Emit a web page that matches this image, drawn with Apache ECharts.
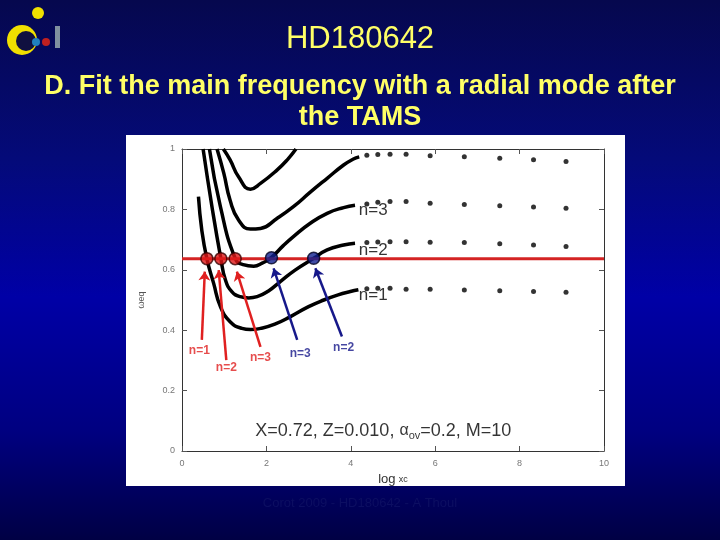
<!DOCTYPE html>
<html>
<head>
<meta charset="utf-8">
<script src="https://cdn.jsdelivr.net/npm/echarts@6/dist/echarts.min.js"></script>
<style>
  html, body { margin: 0; padding: 0; }
  #chart { width: 720px; height: 540px; }
</style>
</head>
<body>
<div id="chart"></div>
<script>
// mode tracks (log xc, frequency)
const curveN1 = [[0.39,0.842],[0.47,0.73],[0.59,0.636],[0.75,0.555],[0.91,0.478],[1.14,0.428],[1.42,0.406],[1.62,0.402],[1.86,0.406],[2.2,0.42],[2.57,0.445],[3.0,0.478],[3.36,0.5],[3.7,0.517],[3.99,0.528],[4.18,0.534]]
const curveN2 = [[0.50,1.0],[0.71,0.809],[0.92,0.638],[1.03,0.566],[1.18,0.528],[1.38,0.511],[1.58,0.507],[1.78,0.511],[2.05,0.53],[2.33,0.561],[2.68,0.599],[3.12,0.638],[3.44,0.666],[3.83,0.682],[4.1,0.688]]
const curveN3 = [[0.65,1.0],[0.91,0.809],[1.26,0.638],[1.45,0.617],[1.7,0.612],[1.9,0.622],[2.12,0.641],[2.4,0.68],[2.64,0.71],[3.04,0.754],[3.44,0.787],[3.83,0.806],[4.1,0.814]]
const curveN4 = [[0.83,1.0],[0.99,0.92],[1.14,0.83],[1.34,0.765],[1.62,0.735],[1.86,0.737],[2.25,0.77],[2.64,0.809],[3.04,0.857],[3.44,0.903],[3.83,0.947],[4.05,0.966],[4.2,0.974]]
const curveN5 = [[0.98,1.0],[1.14,0.964],[1.34,0.908],[1.62,0.867],[1.86,0.886],[2.25,0.93],[2.5,0.965],[2.7,1.0]]

// sparse points on the plateaus
const plateauX = [4.38, 4.64, 4.93, 5.31, 5.88, 6.69, 7.53, 8.33, 9.10]
const plateauN1 = [0.537, 0.539, 0.539, 0.536, 0.536, 0.533, 0.531, 0.528, 0.526]
const plateauN2 = [0.690, 0.692, 0.693, 0.693, 0.691, 0.690, 0.686, 0.682, 0.677]
const plateauN3 = [0.818, 0.824, 0.826, 0.826, 0.820, 0.816, 0.812, 0.808, 0.804]
const plateauN4 = [0.979, 0.982, 0.983, 0.983, 0.978, 0.974, 0.969, 0.964, 0.959]

// observed main frequency and the matching points
const obsFreq = 0.637
const redFits = [[0.59,0.637],[0.92,0.637],[1.26,0.637]]
const blueFits = [[2.12,0.640],[3.12,0.638]]

// arrows: [tailX, tailY, headX, headY, label, labelX, labelY]
const redArrows = [
  [0.47,0.368, 0.54,0.594, 'n=1', 0.41,0.332],
  [1.05,0.301, 0.87,0.599, 'n=2', 1.05,0.277],
  [1.86,0.345, 1.30,0.594, 'n=3', 1.86,0.310]
]
const blueArrows = [
  [2.73,0.368, 2.17,0.605, 'n=3', 2.80,0.323],
  [3.79,0.379, 3.16,0.605, 'n=2', 3.83,0.343]
]

const curveLabels = [['n=3',4.53,0.798],['n=2',4.53,0.666],['n=1',4.53,0.517]]

const chart = echarts.init(document.getElementById('chart'))

function track(data) {
  return {
    type: 'line', data: data, smooth: true, showSymbol: false, silent: true,
    lineStyle: { color: '#000', width: 3.5 }, z: 3
  }
}
function dots(ys) {
  return {
    type: 'scatter', data: plateauX.map((x, i) => [x, ys[i]]),
    symbolSize: 5, itemStyle: { color: '#000' }, z: 3
  }
}
function arrows(list, color) {
  return {
    type: 'lines', coordinateSystem: 'cartesian2d', z: 4,
    symbol: ['none', 'arrow'], symbolSize: 9,
    lineStyle: { color: color, width: 2.5, opacity: 1 },
    data: list.map(a => ({ coords: [[a[0], a[1]], [a[2], a[3]]] }))
  }
}
function arrowLabels(list, color) {
  return {
    type: 'scatter', symbolSize: 0, z: 5,
    data: list.map(a => [a[5], a[6], a[4]]),
    label: {
      show: true, position: 'inside', formatter: p => p.value[2],
      color: color, fontSize: 12, fontWeight: 'bold', fontFamily: 'Liberation Sans, Arial'
    }
  }
}

const lineCommon = { show: true, onZero: false, lineStyle: { color: '#333', width: 1 } }
const tickCommon = { show: true, inside: true, length: 5, lineStyle: { color: '#555' } }
const titleFont = { color: '#ffff66', fontSize: 27, fontWeight: 'bold', fontFamily: 'Liberation Sans, Arial' }

const option = {
  backgroundColor: {
    type: 'linear', x: 0, y: 0, x2: 0, y2: 1,
    colorStops: [
      { offset: 0, color: '#06084e' },
      { offset: 0.3, color: '#040a7a' },
      { offset: 0.55, color: '#0000a6' },
      { offset: 0.8, color: '#000080' },
      { offset: 1, color: '#000044' }
    ]
  },
  animation: false,
  title: [
    {
      text: 'HD180642', left: 'center', top: 19,
      textStyle: { color: '#ffff66', fontSize: 31, fontWeight: 'normal', fontFamily: 'Liberation Sans, Arial' }
    },
    { text: 'D. Fit the main frequency with a radial mode after', left: 'center', top: 68, textStyle: titleFont },
    { text: 'the TAMS', left: 'center', top: 99, textStyle: titleFont }
  ],
  graphic: [
    { type: 'rect', shape: { x: 126, y: 135, width: 499, height: 351 }, style: { fill: '#fff' }, z: -10 },
    { type: 'text', left: 'center', top: 497, style: { text: 'Corot 2009 - HD180642 - A Thoul', fill: '#0c0e62', font: '13px Liberation Sans, Arial' } },
    // logo
    { type: 'circle', shape: { cx: 22, cy: 40, r: 15 }, style: { fill: '#f0e000' } },
    { type: 'circle', shape: { cx: 26, cy: 41, r: 10 }, style: { fill: '#101040' } },
    { type: 'circle', shape: { cx: 38, cy: 13, r: 6 }, style: { fill: '#f0e000' } },
    { type: 'circle', shape: { cx: 36, cy: 42, r: 4 }, style: { fill: '#2080c0' } },
    { type: 'circle', shape: { cx: 46, cy: 42, r: 4 }, style: { fill: '#c02020' } },
    { type: 'rect', shape: { x: 55, y: 26, width: 5, height: 22 }, style: { fill: '#8090a0' } }
  ],
  grid: { left: 182, right: 116, top: 149, bottom: 89 },
  xAxis: [
    {
      type: 'value', min: 0, max: 10, interval: 2, position: 'bottom',
      name: '{a|log} {b|xc}', nameLocation: 'middle', nameGap: 20,
      nameTextStyle: { rich: { a: { fontSize: 13, color: '#333' }, b: { fontSize: 9, color: '#333' } } },
      axisLine: lineCommon, axisTick: tickCommon,
      axisLabel: { color: '#777', fontSize: 9, margin: 8 },
      splitLine: { show: false }
    },
    {
      type: 'value', min: 0, max: 10, interval: 2, position: 'top',
      axisLine: lineCommon, axisTick: tickCommon,
      axisLabel: { show: false }, splitLine: { show: false }
    }
  ],
  yAxis: [
    {
      type: 'value', min: 0, max: 1, interval: 0.2, position: 'left',
      name: 'ωeq', nameLocation: 'middle', nameGap: 36,
      nameTextStyle: { color: '#555', fontSize: 9 },
      axisLine: lineCommon, axisTick: tickCommon,
      axisLabel: { color: '#777', fontSize: 9, margin: 7 },
      splitLine: { show: false }
    },
    {
      type: 'value', min: 0, max: 1, interval: 0.2, position: 'right',
      axisLine: lineCommon, axisTick: tickCommon,
      axisLabel: { show: false }, splitLine: { show: false }
    }
  ],
  series: [
    track(curveN1), track(curveN2), track(curveN3), track(curveN4), track(curveN5),
    dots(plateauN1), dots(plateauN2), dots(plateauN3), dots(plateauN4),
    {
      type: 'line', data: [[0, obsFreq], [10, obsFreq]], showSymbol: false, z: 4,
      lineStyle: { color: '#d42424', width: 3 }
    },
    {
      type: 'scatter', data: redFits, symbolSize: 12, z: 6,
      itemStyle: { color: '#e01818', borderColor: '#3a0000', borderWidth: 1.5 }
    },
    {
      type: 'scatter', data: blueFits, symbolSize: 12, z: 6,
      itemStyle: { color: '#102090', borderColor: '#000020', borderWidth: 1.5 }
    },
    arrows(redArrows, '#e02020'),
    arrows(blueArrows, '#16188a'),
    arrowLabels(redArrows, '#e02020'),
    arrowLabels(blueArrows, '#16188a'),
    {
      type: 'scatter', symbolSize: 0, z: 5,
      data: curveLabels.map(l => [l[1], l[2], l[0]]),
      label: {
        show: true, position: 'inside', formatter: p => p.value[2],
        color: '#000', fontSize: 17, fontFamily: 'Liberation Sans, Arial'
      }
    },
    {
      type: 'scatter', symbolSize: 0, z: 5,
      data: [[4.77, 0.067]],
      label: {
        show: true, position: 'inside',
        formatter: '{a|X=0.72, Z=0.010, }{g|α}{s|ov}{a|=0.2, M=10}',
        rich: {
          a: { fontSize: 18, color: '#000', fontFamily: 'Liberation Sans, Arial' },
          g: { fontSize: 16, color: '#000', fontFamily: 'Liberation Sans, Arial' },
          s: { fontSize: 11, color: '#000', fontFamily: 'Liberation Sans, Arial', padding: [10, 0, 0, 0] }
        }
      }
    }
  ]
}

chart.setOption(option)
</script>
</body>
</html>
